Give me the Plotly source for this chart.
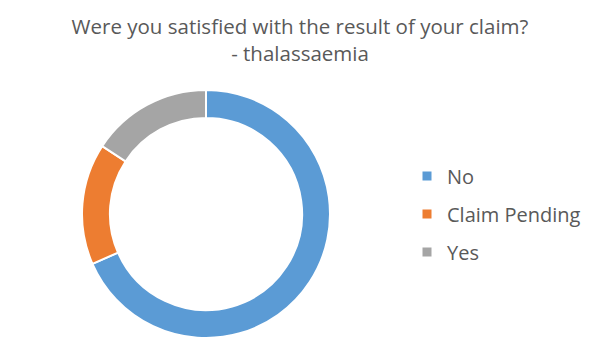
import plotly.graph_objects as go

categories = ["No", "Claim Pending", "Yes"]
values = [13, 3, 3]
colors = ["#5B9BD5", "#ED7D31", "#A5A5A5"]
title_text = "Were you satisfied with the result of your claim?<br>- thalassaemia"

W, H = 596, 356
OFF = 8  # page body margin offset
fig = go.Figure()
fig.add_trace(go.Pie(
    labels=categories, values=values, sort=False, direction="clockwise", rotation=0,
    hole=0.775, textinfo="none", hoverinfo="label+value+percent",
    marker=dict(colors=colors, line=dict(color="white", width=2)),
    showlegend=False,
    domain=dict(x=[(82 - OFF) / W, (330 - OFF) / W],
                y=[(H - 338 + OFF) / H, (H - 90 + OFF) / H]),
))
for c, col in zip(categories, colors):
    fig.add_trace(go.Scatter(
        x=[None], y=[None], mode="markers", name=c, legendgroup=c,
        marker=dict(symbol="square", size=9, color=col),
    ))

fig.update_layout(
    width=W, height=H,
    margin=dict(l=0, r=0, t=0, b=0),
    paper_bgcolor="white", plot_bgcolor="white",
    font=dict(family="Open Sans", color="#595959", size=20),
    title=dict(text=title_text, x=(300 - OFF) / W, xanchor="center", y=1 - 26 / H, yanchor="top",
               font=dict(size=20.5, color="#595959")),
    xaxis=dict(visible=False), yaxis=dict(visible=False),
    legend=dict(x=(407 - OFF) / W, xanchor="left", y=(H - 214 + OFF) / H, yanchor="middle",
                font=dict(size=20, color="#595959"), tracegroupgap=9,
                itemclick=False, itemdoubleclick=False),
)
fig.write_html("out.html")
